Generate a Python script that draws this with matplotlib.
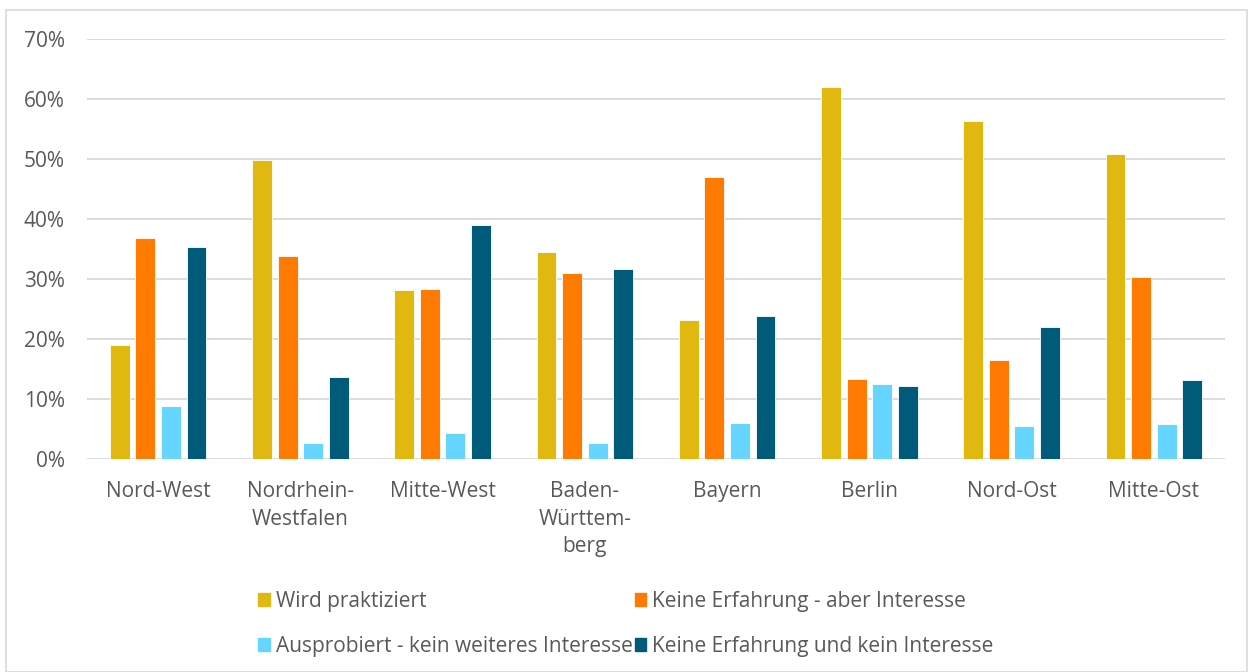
import matplotlib.pyplot as plt
import matplotlib.patches as mpatches
import numpy as np

plt.rcParams['font.family'] = ['Open Sans', 'DejaVu Sans']

regions = ['Nord-West', 'Nordrhein-\nWestfalen', 'Mitte-West', 'Baden-\nWürttem-\nberg',
           'Bayern', 'Berlin', 'Nord-Ost', 'Mitte-Ost']
series_names = ['Wird praktiziert', 'Keine Erfahrung - aber Interesse',
                'Ausprobiert - kein weiteres Interesse', 'Keine Erfahrung und kein Interesse']
praktiziert = [19.0, 49.8, 28.2, 34.5, 23.2, 62.0, 56.3, 50.8]
aber_interesse = [36.8, 33.8, 28.3, 31.0, 47.0, 13.3, 16.5, 30.3]
ausprobiert = [8.8, 2.7, 4.3, 2.7, 6.0, 12.5, 5.5, 5.8]
kein_interesse = [35.3, 13.7, 39.0, 31.7, 23.8, 12.2, 22.0, 13.2]
colors = ['#E1B80F', '#FF7A00', '#66D5FF', '#005A7A']

values = [praktiziert, aber_interesse, ausprobiert, kein_interesse]

fig = plt.figure(figsize=(12.53, 6.72), dpi=100)
ax = fig.add_axes([87 / 1253, 1 - 459 / 672, 1138 / 1253, 420 / 672])

# outer frame like the spreadsheet chart area
fig.patches.append(mpatches.Rectangle((6 / 1253, 0), 1241 / 1253, 662 / 672,
                                      transform=fig.transFigure, fill=False,
                                      edgecolor='#D9D9D9', linewidth=1.2))

x = np.arange(len(regions))
width = 0.14
step = 0.18
for i, (vals, c, name) in enumerate(zip(values, colors, series_names)):
    ax.bar(x + (i - 1.5) * step, vals, width, color=c, label=name,
           edgecolor='white', linewidth=0.6, zorder=3)

ax.set_xlim(-0.5, len(regions) - 0.5)
ax.set_ylim(0, 70)
ax.set_yticks(np.arange(0, 71, 10))
ax.set_yticklabels([f'{v}%' for v in range(0, 71, 10)])
ax.set_xticks(x)
ax.set_xticklabels(regions, linespacing=1.4, va='top')
ax.grid(axis='y', color='#D9D9D9', linewidth=1.3, zorder=0)
for s in ax.spines.values():
    s.set_visible(False)
ax.tick_params(length=0, labelsize=15, colors='#595959')
ax.tick_params(axis='y', pad=16)
ax.tick_params(axis='x', pad=16)

# legend is filled row by row in the original
order = [0, 2, 1, 3]
handles = [mpatches.Patch(color=colors[k]) for k in order]
labels = [series_names[k] for k in order]
fig.legend(handles, labels, loc='center', bbox_to_anchor=(626 / 1253, 1 - 624 / 672),
           ncol=2, frameon=False, fontsize=15, labelcolor='#595959',
           handlelength=0.55, handleheight=0.55, handletextpad=0.3,
           columnspacing=0.1, labelspacing=1.15)

plt.savefig('out.png', dpi=100)
plt.close()
